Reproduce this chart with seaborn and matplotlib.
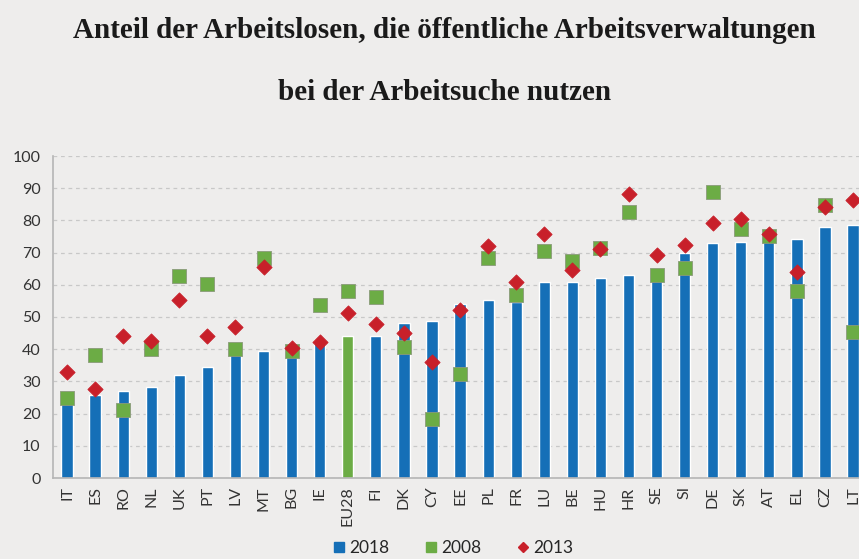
import matplotlib
matplotlib.use("Agg")
import matplotlib.pyplot as plt
from matplotlib.lines import Line2D
import seaborn as sns

countries = ["IT", "ES", "RO", "NL", "UK", "PT", "LV", "MT", "BG", "IE", "EU28",
             "FI", "DK", "CY", "EE", "PL", "FR", "LU", "BE", "HU", "HR", "SE",
             "SI", "DE", "SK", "AT", "EL", "CZ", "LT"]
share_2018 = [23.3, 25.9, 27.1, 28.3, 32.1, 34.6, 38.5, 39.4, 41.0, 42.8, 44.0,
              44.2, 48.0, 48.9, 54.1, 55.3, 54.8, 60.9, 60.9, 62.2, 62.9, 62.0,
              69.8, 72.9, 73.4, 74.0, 74.3, 78.1, 78.6]
share_2008 = [25.0, 38.1, 21.2, 40.0, 62.6, 60.1, 40.2, 68.3, 39.5, 53.6, 58.0,
              56.1, 40.6, 18.3, 32.3, 68.3, 56.8, 70.6, 67.3, 71.4, 82.5, 63.1,
              65.3, 88.7, 77.3, 75.0, 58.2, 84.7, 45.2]
share_2013 = [32.9, 27.7, 44.0, 42.6, 55.2, 44.0, 47.0, 65.6, 40.4, 42.1, 51.2,
              47.8, 45.0, 36.1, 52.3, 71.9, 60.8, 75.8, 64.7, 71.1, 88.3, 69.2,
              72.4, 79.3, 80.4, 75.7, 64.0, 84.3, 86.2]

BLUE = "#156fb7"
GREEN = "#6cac45"
RED = "#c8202a"
BG = "#eeedec"

sns.set_style("white")
plt.rcParams["font.family"] = ["Lato", "DejaVu Sans"]

fig = plt.figure(figsize=(8.59, 5.59), dpi=100, facecolor=BG)
ax = fig.add_axes([53 / 859, 1 - 478 / 559, 1 - 53 / 859, (478 - 156) / 559])
ax.set_facecolor(BG)

bar_colors = [GREEN if c == "EU28" else BLUE for c in countries]
sns.barplot(x=countries, y=share_2018, hue=countries, palette=bar_colors,
            legend=False, width=0.4, saturation=1, ax=ax, zorder=2)
sns.scatterplot(x=countries, y=share_2008, marker="s", s=110, color=GREEN,
                edgecolor="#8a9a7a", linewidth=0.6, ax=ax, zorder=3)
sns.scatterplot(x=countries, y=share_2013, marker="D", s=60, color=RED,
                edgecolor=RED, linewidth=0.6, ax=ax, zorder=4)

ax.set_yticks(range(0, 101, 10))
ax.set_xticks(range(len(countries)))
ax.set_xticklabels(countries, rotation=90, fontsize=11.5, color="#333333")
ax.set_xticks([i + 0.5 for i in range(-1, len(countries))], minor=True)
ax.set_xlim(-0.5, 28.21)
ax.set_ylim(0, 100)

ax.yaxis.grid(True, color="#c8c8c8", linestyle=(0, (3, 3)), linewidth=0.9)
ax.set_axisbelow(True)
for side in ["top", "right"]:
    ax.spines[side].set_visible(False)
for side in ["left", "bottom"]:
    ax.spines[side].set_color("#b5b5b5")
    ax.spines[side].set_linewidth(1.2)

ax.tick_params(axis="x", length=0, pad=6)
ax.tick_params(axis="x", which="minor", length=5, color="#b5b5b5", width=1.2)
ax.tick_params(axis="y", length=5, color="#b5b5b5", width=1.2, labelsize=11.5,
               labelcolor="#333333", pad=4)

title_kw = dict(ha="center", va="center", fontsize=21, fontweight="bold",
                family="Liberation Serif", color="#1a1a1a")
fig.text(0.517, 1 - 30 / 559,
         "Anteil der Arbeitslosen, die öffentliche Arbeitsverwaltungen", **title_kw)
fig.text(0.517, 1 - 92 / 559, "bei der Arbeitsuche nutzen", **title_kw)

handles = [
    Line2D([], [], marker="s", linestyle="none", color=BLUE, markersize=7),
    Line2D([], [], marker="s", linestyle="none", color=GREEN, markersize=7),
    Line2D([], [], marker="D", linestyle="none", color=RED, markersize=5),
]
fig.legend(handles, ["2018", "2008", "2013"], loc="center",
           bbox_to_anchor=(0.525, 1 - 548 / 559), ncol=3, frameon=False,
           handletextpad=0.0, columnspacing=1.8, handlelength=1.2,
           prop={"family": ["Lato", "DejaVu Sans"], "size": 12.5})

fig.savefig("out.png", dpi=100, facecolor=BG)
